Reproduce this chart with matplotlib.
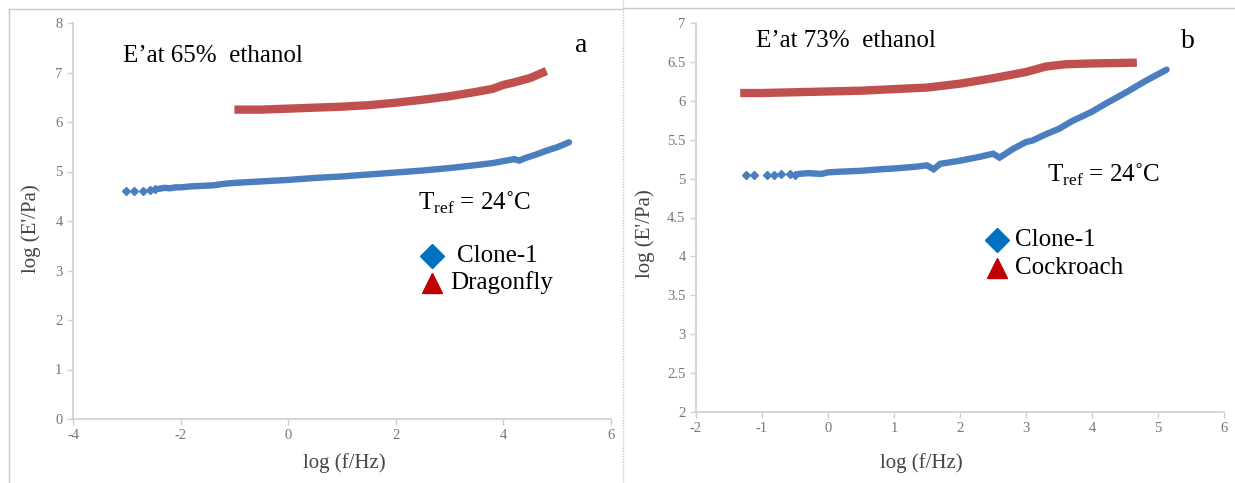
import matplotlib
matplotlib.use('Agg')
from matplotlib import pyplot as plt

plt.rcParams['font.family'] = ['Liberation Serif', 'DejaVu Serif']
plt.rcParams['mathtext.fontset'] = 'custom'
plt.rcParams['mathtext.rm'] = 'Liberation Serif'
plt.rcParams['axes.unicode_minus'] = False

# panel a: 65% ethanol
a_blue_sparse_x = [-3.02, -2.87, -2.69, -2.57, -2.48]
a_blue_sparse_y = [4.60, 4.60, 4.61, 4.62, 4.64]
a_blue_x = [-2.40, -2.30, -2.20, -2.10, -2.00, -1.80, -1.60, -1.40, -1.20, -1.00, -0.50, 0.00,
            0.50, 1.00, 1.50, 2.00, 2.50, 3.00, 3.50, 3.80, 4.00, 4.20, 4.30, 4.40, 4.60, 4.80,
            5.00, 5.22]
a_blue_y = [4.65, 4.67, 4.66, 4.68, 4.68, 4.70, 4.71, 4.72, 4.75, 4.77, 4.80, 4.83,
            4.87, 4.90, 4.94, 4.98, 5.02, 5.07, 5.13, 5.17, 5.21, 5.25, 5.22, 5.27, 5.34, 5.42,
            5.49, 5.59]
a_red_x = [-1.0, -0.5, 0.0, 0.5, 1.0, 1.5, 2.0, 2.5, 3.0, 3.5, 3.8, 4.0, 4.2, 4.5, 4.8]
a_red_y = [6.25, 6.25, 6.27, 6.29, 6.31, 6.34, 6.39, 6.45, 6.52, 6.61, 6.67, 6.75, 6.80, 6.89, 7.03]

# panel b: 73% ethanol
b_blue_sparse_x = [-1.24, -1.12, -0.93, -0.82, -0.71, -0.57, -0.50]
b_blue_sparse_y = [5.04, 5.04, 5.05, 5.05, 5.06, 5.06, 5.05]
b_blue_x = [-0.45, -0.3, -0.1, 0.0, 0.2, 0.5, 0.8, 1.0, 1.3, 1.5, 1.6, 1.7, 2.0, 2.3, 2.5,
            2.6, 2.8, 3.0, 3.1, 3.3, 3.5, 3.7, 4.0, 4.2, 4.5, 4.8, 5.13]
b_blue_y = [5.06, 5.07, 5.06, 5.08, 5.09, 5.10, 5.12, 5.13, 5.15, 5.17, 5.12, 5.19, 5.23, 5.28, 5.32,
            5.27, 5.38, 5.47, 5.49, 5.57, 5.64, 5.74, 5.86, 5.96, 6.10, 6.25, 6.40]
b_red_x = [-1.33, -1.0, -0.5, 0.0, 0.5, 1.0, 1.5, 2.0, 2.5, 3.0, 3.3, 3.6, 4.0, 4.68]
b_red_y = [6.10, 6.10, 6.11, 6.12, 6.13, 6.15, 6.17, 6.22, 6.29, 6.37, 6.44, 6.47, 6.48, 6.49]

blue = '#4a7ebf'
red = '#c0504d'
tick_col = '#777777'
spine_col = '#d0d0d0'

fig = plt.figure(figsize=(12.35, 4.83), dpi=100)

W, H = 1235.0, 483.0


def make_axes(left, top, right, bottom):
    return fig.add_axes([left / W, 1 - bottom / H, (right - left) / W, (bottom - top) / H])


def style(ax):
    for s in ['top', 'right']:
        ax.spines[s].set_visible(False)
    for s in ['left', 'bottom']:
        ax.spines[s].set_color(spine_col)
        ax.spines[s].set_linewidth(1.2)
    ax.tick_params(direction='out', length=4, width=1, color=spine_col,
                   labelcolor=tick_col, labelsize=10.5)
    ax.set_xlabel('log (f/Hz)', fontsize=15, color='#454545')
    ax.set_ylabel("log (E'/Pa)", fontsize=15, color='#454545')


def draw(ax, rx, ry, bx, by, sx, sy):
    ax.plot(rx, ry, color=red, lw=6, solid_capstyle='butt')
    ax.plot(bx, by, color=blue, lw=4.6, solid_capstyle='round', solid_joinstyle='miter')
    ax.plot(sx, sy, ls='none', color=blue, marker='D', ms=4.5)


ax1 = make_axes(73, 23, 611, 419)
draw(ax1, a_red_x, a_red_y, a_blue_x, a_blue_y, a_blue_sparse_x, a_blue_sparse_y)
ax1.set_xlim(-4, 6)
ax1.set_ylim(0, 8)
ax1.set_xticks([-4, -2, 0, 2, 4, 6])
ax1.set_yticks(range(0, 9))
style(ax1)
ax1.xaxis.set_label_coords(0.504, -0.085)
ax1.yaxis.set_label_coords(-0.06, 0.48)

ax2 = make_axes(696, 23, 1224, 412)
draw(ax2, b_red_x, b_red_y, b_blue_x, b_blue_y, b_blue_sparse_x, b_blue_sparse_y)
ax2.set_xlim(-2, 6)
ax2.set_ylim(2, 7)
ax2.set_xticks(range(-2, 7))
ax2.set_yticks([2, 2.5, 3, 3.5, 4, 4.5, 5, 5.5, 6, 6.5, 7])
ax2.set_yticklabels(['2', '2.5', '3', '3.5', '4', '4.5', '5', '5.5', '6', '6.5', '7'])
style(ax2)
ax2.xaxis.set_label_coords(0.426, -0.105)
ax2.yaxis.set_label_coords(-0.078, 0.458)

# overlay in pixel coordinates for annotations, legends and panel frames
ov = fig.add_axes([0, 0, 1, 1], zorder=5)
ov.set_xlim(0, W)
ov.set_ylim(H, 0)
ov.axis('off')
ov.patch.set_alpha(0)

frame_col = '#c8c8c8'
ov.plot([9, 623], [9, 9], color=frame_col, lw=1)
ov.plot([9, 9], [9, H], color=frame_col, lw=1)
ov.plot([623, 1235], [8, 8], color=frame_col, lw=1)
ov.plot([623, 623], [0, H], color=frame_col, lw=1, ls=(0, (1, 1)))

fs = 18
tref = 'T$_{\\mathrm{ref}}$ = 24\u02daC'
ov.text(123, 62, 'E\u2019at 65%  ethanol', fontsize=fs, va='baseline')
ov.text(756, 47, 'E\u2019at 73%  ethanol', fontsize=fs, va='baseline')
ov.text(575, 52, 'a', fontsize=20, va='baseline')
ov.text(1181, 48, 'b', fontsize=20, va='baseline')
ov.text(418, 210, tref, fontsize=fs, va='baseline')
ov.text(1047, 182, tref, fontsize=fs, va='baseline')

ov.plot([432], [256], marker='D', ms=12, color='#0070c0', ls='none')
ov.plot([432], [283], marker='^', ms=15, color='#c00000', ls='none')
ov.text(457, 256, 'Clone-1', fontsize=fs, va='center')
ov.text(450, 283, 'Dragonfly', fontsize=fs, va='center')

ov.plot([997], [240], marker='D', ms=12, color='#0070c0', ls='none')
ov.plot([997], [268], marker='^', ms=15, color='#c00000', ls='none')
ov.text(1015, 240, 'Clone-1', fontsize=fs, va='center')
ov.text(1015, 268, 'Cockroach', fontsize=fs, va='center')

fig.savefig('out.png', dpi=100)
